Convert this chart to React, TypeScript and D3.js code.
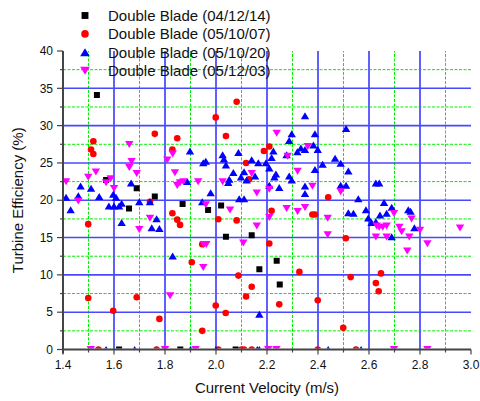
import * as d3 from 'd3';
import React, { useEffect, useRef } from 'react';

// Double Blade (04/12/14) - black squares
const blade041214: [number, number][] = [
  [1.533, 34.1], [1.569, 22.7], [1.689, 21.6], [1.76, 20.5], [1.659, 18.9], [1.869, 19.5],
  [1.969, 18.7], [2.02, 19.3], [2.039, 15.1], [2.14, 15.3], [2.238, 11.9], [2.17, 10.75],
  [2.25, 8.7], [1.62, 0], [1.86, 0], [2.077, 0]
];

// Double Blade (05/10/07) - red circles
const blade051007: [number, number][] = [
  [1.76, 28.9], [1.848, 28.3], [1.519, 27.9], [1.51, 26.8], [1.519, 26.2], [1.829, 26.8],
  [1.741, 19.8], [1.829, 18.25], [1.848, 17.4], [1.859, 16.7], [1.499, 16.8], [2.081, 33.2],
  [1.999, 31.1], [2.039, 28.6], [2.009, 17.45], [2.081, 17.3], [2.118, 25.0], [2.13, 22.8],
  [2.188, 26.6], [2.209, 27.2], [2.218, 18.6], [2.209, 14.2], [2.44, 20.4], [2.378, 18.1],
  [2.388, 18.1], [2.509, 14.9], [1.946, 14.1], [2.088, 9.9], [2.14, 8.4], [2.118, 7.1],
  [2.327, 10.4], [2.248, 6.05], [1.999, 5.9], [2.038, 4.9], [2.399, 6.6], [1.946, 2.5],
  [1.905, 11.7], [1.499, 6.9], [1.689, 7.0], [1.597, 5.2], [1.778, 4.1], [2.528, 9.7],
  [2.647, 10.2], [2.627, 8.9], [2.638, 7.8], [2.499, 2.9],
  [1.539, 0], [1.767, 0], [2.009, 0], [2.1, 0], [2.11, 0], [2.14, 0], [2.399, 0], [2.549, 0]
];

// Double Blade (05/10/20) - blue triangles
const blade051020: [number, number][] = [
  [1.412, 20.4], [1.43, 18.7], [1.46, 20.6], [1.469, 21.9], [1.51, 21.6], [1.542, 20.5],
  [1.597, 20.8], [1.608, 20.4], [1.58, 19.2], [1.6, 19.2], [1.62, 19.2], [1.63, 19.6],
  [1.63, 17.0], [1.667, 22.3], [1.699, 19.8], [1.741, 19.8], [1.748, 16.3], [1.778, 16.2],
  [1.767, 17.5], [1.83, 12.5], [1.887, 22.5], [1.898, 26.6], [1.946, 19.8], [1.95, 25.0],
  [1.96, 25.2], [1.979, 21.0], [2.026, 26.1], [2.031, 25.5], [2.039, 24.7], [2.052, 22.8],
  [2.048, 22.35], [2.068, 23.7], [2.088, 26.4], [2.091, 20.2], [2.11, 20.2], [2.11, 23.8],
  [2.12, 22.7], [2.153, 23.25], [2.098, 23.1], [2.14, 25.4], [2.166, 25.0], [2.196, 25.0],
  [2.209, 24.3], [2.209, 22.0], [2.225, 26.6], [2.218, 25.7], [2.235, 23.5], [2.229, 23.1],
  [2.248, 21.7], [2.287, 23.25], [2.297, 22.7], [2.277, 26.1], [2.297, 28.9], [2.287, 28.0],
  [2.349, 31.3], [2.51, 29.6], [2.388, 28.9], [2.333, 27.0], [2.319, 26.5], [2.349, 26.8],
  [2.382, 27.4], [2.399, 26.8], [2.467, 25.6], [2.489, 24.95], [2.418, 24.8], [2.388, 24.1],
  [2.519, 23.9], [2.349, 21.9], [2.349, 20.9], [2.489, 22.0], [2.51, 22.0], [2.627, 22.3],
  [2.64, 22.3], [2.558, 20.2], [2.659, 19.7], [2.519, 18.3], [2.539, 18.25], [2.588, 18.7],
  [2.689, 19.05], [2.669, 18.25], [2.754, 18.7], [2.763, 18.5], [2.597, 17.6], [2.61, 17.0],
  [2.643, 18.0], [2.627, 17.1], [2.778, 16.3], [2.689, 15.1], [2.17, 4.7],
  [1.569, 0], [1.681, 0], [1.9, 0], [2.0, 0], [2.162, 0], [2.17, 0], [2.44, 0], [2.569, 0]
];

// Double Blade (05/12/03) - magenta down triangles
const blade051203: [number, number][] = [
  [1.412, 22.5], [1.499, 23.1], [1.529, 23.8], [1.46, 19.9], [1.569, 22.35], [1.587, 22.9],
  [1.6, 21.6], [1.66, 27.5], [1.66, 24.4], [1.669, 25.2], [1.689, 23.6], [1.699, 16.1],
  [1.741, 17.6], [1.809, 25.4], [1.83, 26.2], [1.839, 23.7], [1.848, 22.0], [1.859, 22.35],
  [1.872, 22.5], [1.93, 22.5], [1.96, 19.4], [1.952, 14.1], [1.962, 14.1], [2.026, 22.5],
  [2.055, 18.7], [2.107, 14.3], [2.14, 23.6], [2.16, 21.0], [2.16, 16.55], [2.209, 21.5],
  [2.209, 17.7], [2.238, 29.0], [2.281, 25.9], [2.36, 27.2], [2.32, 23.9], [2.378, 21.9],
  [2.277, 18.9], [2.32, 18.5], [2.349, 19.05], [2.438, 17.6], [2.489, 21.15], [2.438, 15.4],
  [2.698, 18.25], [2.767, 17.5], [2.719, 16.4], [2.728, 15.8], [2.627, 15.1], [2.64, 16.4],
  [2.654, 16.4], [2.669, 16.55], [2.63, 16.55], [2.669, 15.1], [2.758, 15.1], [2.8, 16.0],
  [2.829, 14.2], [2.957, 16.3], [2.75, 13.2], [1.95, 11.0], [1.82, 7.2],
  [1.509, 0], [1.8, 0], [1.92, 0], [2.205, 0], [2.237, 0], [2.698, 0], [2.829, 0]
];

const seriesNames = ['Double Blade (04/12/14)', 'Double Blade (05/10/07)', 'Double Blade (05/10/20)', 'Double Blade (05/12/03)'];
const seriesColors = ['#000000', '#ff0000', '#0000ff', '#ff00ff'];
const xTicks = [1.4, 1.6, 1.8, 2.0, 2.2, 2.4, 2.6, 2.8, 3.0];
const yTicks = [0, 5, 10, 15, 20, 25, 30, 35, 40];

const width = 480;
const height = 401;
const font = 'Arial, "Liberation Sans", sans-serif';

function symbolPath(kind: number, s: number) {
  if (kind === 0) return `M${-3 * s},${-3 * s}h${6 * s}v${6 * s}h${-6 * s}Z`;
  if (kind === 1) {
    const r = 3.3 * s;
    return `M${r},0A${r},${r} 0 1,1 ${-r},0A${r},${r} 0 1,1 ${r},0Z`;
  }
  if (kind === 2) return `M0,${-3.6 * s}L${4.2 * s},${3.4 * s}L${-4.2 * s},${3.4 * s}Z`;
  return `M0,${3.6 * s}L${4.2 * s},${-3.4 * s}L${-4.2 * s},${-3.4 * s}Z`;
}

function EfficiencyChart() {
  const ref = useRef<SVGSVGElement>(null);

  useEffect(() => {
    const svg = d3.select(ref.current);
    svg.selectAll('*').remove();

    const x = d3.scaleLinear().domain([1.4, 3.0]).range([63, 471]);
    const y = d3.scaleLinear().domain([0, 40]).range([349.5, 51]);

    svg.append('defs').append('clipPath').attr('id', 'plot-clip')
      .append('rect').attr('x', 55).attr('y', 40).attr('width', 425).attr('height', 308.5);

    // minor grid (green dotted)
    const grid = svg.append('g');
    d3.range(1.5, 3.0, 0.2).forEach(v => {
      grid.append('line').attr('x1', x(v)).attr('x2', x(v)).attr('y1', y(0)).attr('y2', y(40))
        .attr('stroke', '#00ee00').attr('stroke-width', 1).attr('stroke-dasharray', '3,1.5');
    });
    d3.range(2.5, 40, 5).forEach(v => {
      grid.append('line').attr('x1', x(1.4)).attr('x2', x(3.0)).attr('y1', y(v)).attr('y2', y(v))
        .attr('stroke', '#00ee00').attr('stroke-width', 1).attr('stroke-dasharray', '3,1.5');
    });
    // major grid (blue)
    xTicks.slice(1, -1).forEach(v => {
      grid.append('line').attr('x1', x(v)).attr('x2', x(v)).attr('y1', y(0)).attr('y2', y(40))
        .attr('stroke', '#6060ff').attr('stroke-width', 2);
    });
    yTicks.slice(1, -1).forEach(v => {
      grid.append('line').attr('x1', x(1.4)).attr('x2', x(3.0)).attr('y1', y(v)).attr('y2', y(v))
        .attr('stroke', '#4848ff').attr('stroke-width', 1.6);
    });

    // markers
    const marks = svg.append('g').attr('clip-path', 'url(#plot-clip)');
    [blade041214, blade051007, blade051020, blade051203].forEach((data, i) => {
      marks.append('g').selectAll('path')
        .data(data)
        .enter().append('path')
        .attr('transform', d => `translate(${x(d[0])},${y(d[1])})`)
        .attr('d', symbolPath(i, 1))
        .attr('fill', seriesColors[i]);
    });

    // axes
    const axisColor = '#444';
    const yAxis = svg.append('g');
    yAxis.append('line').attr('x1', 63).attr('x2', 63).attr('y1', y(40)).attr('y2', y(0) + 4)
      .attr('stroke', axisColor).attr('stroke-width', 2);
    yTicks.forEach(v => {
      yAxis.append('line').attr('x1', 57).attr('x2', 63).attr('y1', y(v)).attr('y2', y(v))
        .attr('stroke', axisColor).attr('stroke-width', 1.2);
      yAxis.append('text').attr('x', 53).attr('y', y(v)).attr('dy', '0.35em')
        .attr('text-anchor', 'end').attr('font-size', 12).attr('font-family', font)
        .attr('fill', '#111').text(String(v));
    });
    d3.range(2.5, 40, 5).forEach(v => {
      yAxis.append('line').attr('x1', 60).attr('x2', 63).attr('y1', y(v)).attr('y2', y(v))
        .attr('stroke', axisColor).attr('stroke-width', 1.2);
    });

    const xAxis = svg.append('g');
    xAxis.append('line').attr('x1', 62).attr('x2', x(3.0)).attr('y1', y(0)).attr('y2', y(0))
      .attr('stroke', axisColor).attr('stroke-width', 2);
    xTicks.forEach(v => {
      xAxis.append('line').attr('x1', x(v)).attr('x2', x(v)).attr('y1', y(0)).attr('y2', y(0) + 5)
        .attr('stroke', axisColor).attr('stroke-width', 1.2);
      xAxis.append('text').attr('x', x(v)).attr('y', 368.5)
        .attr('text-anchor', 'middle').attr('font-size', 12).attr('font-family', font)
        .attr('fill', '#111').text(v.toFixed(1));
    });
    d3.range(1.5, 3.0, 0.2).forEach(v => {
      xAxis.append('line').attr('x1', x(v)).attr('x2', x(v)).attr('y1', y(0)).attr('y2', y(0) + 3)
        .attr('stroke', axisColor).attr('stroke-width', 1.2);
    });

    // axis titles
    svg.append('text').attr('x', 267).attr('y', 392.5).attr('text-anchor', 'middle')
      .attr('font-size', 15).attr('font-family', font).attr('fill', '#111')
      .text('Current Velocity (m/s)');
    svg.append('text').attr('transform', `translate(23,${(y(0) + y(40)) / 2}) rotate(-90)`)
      .attr('text-anchor', 'middle').attr('font-size', 15).attr('font-family', font).attr('fill', '#111')
      .text('Turbine Efficiency (%)');

    // legend
    const legend = svg.append('g');
    seriesNames.forEach((name, i) => {
      const ly = 15.5 + i * 18.4;
      legend.append('path').attr('transform', `translate(85,${ly})`)
        .attr('d', symbolPath(i, 1.15)).attr('fill', seriesColors[i]);
      legend.append('text').attr('x', 108).attr('y', ly).attr('dy', '0.36em')
        .attr('font-size', 15).attr('font-family', font).attr('fill', '#111').text(name);
    });
  }, []);

  return (
    <svg ref={ref} width={width} height={height}
      style={{ position: 'absolute', left: 0, top: 0, background: '#fff' }} />
  );
}

export default function App() {
  return <EfficiencyChart />;
}
